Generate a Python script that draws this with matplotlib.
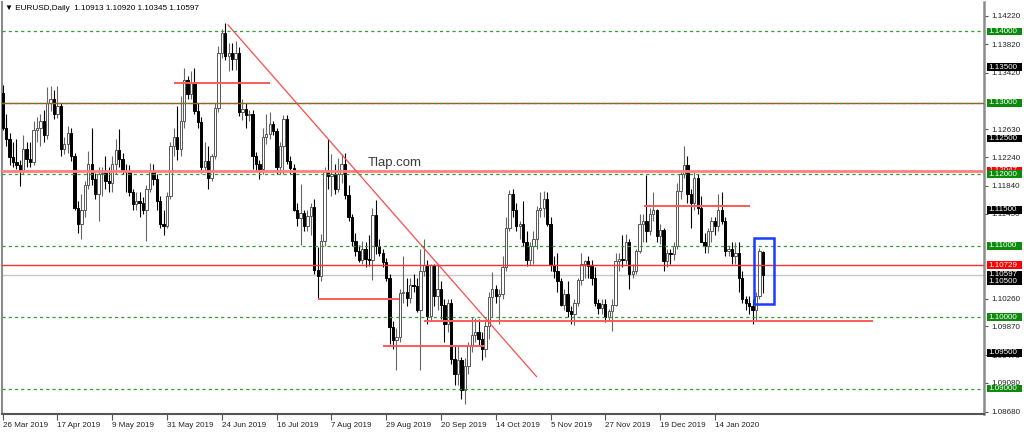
import matplotlib.pyplot as plt
from matplotlib.patches import Rectangle
from matplotlib.transforms import blended_transform_factory
import numpy as np

plt.rcParams['font.family'] = ['Liberation Sans', 'DejaVu Sans']

# EURUSD daily bars, 26 Mar 2019 .. 3 Feb 2020
opens = [
    1.1313, 1.1265, 1.1250, 1.1224, 1.1217, 1.1213, 1.1205, 1.1235, 1.1222, 1.1217,
    1.1262, 1.1265, 1.1275, 1.1255, 1.1300, 1.1305, 1.1285, 1.1295, 1.1235, 1.1242,
    1.1258, 1.1225, 1.1153, 1.1131, 1.1150, 1.1185, 1.1215, 1.1193, 1.1172, 1.1200,
    1.1202, 1.1190, 1.1188, 1.1215, 1.1234, 1.1222, 1.1205, 1.1203, 1.1175, 1.1158,
    1.1163, 1.1160, 1.1150, 1.1180, 1.1205, 1.1193, 1.1163, 1.1130, 1.1128, 1.1170,
    1.1240, 1.1252, 1.1235, 1.1275, 1.1332, 1.1312, 1.1327, 1.1288, 1.1273, 1.1210,
    1.1218, 1.1195, 1.1225, 1.1292, 1.1369, 1.1397, 1.1366, 1.1370, 1.1361, 1.1370,
    1.1287, 1.1291, 1.1283, 1.1285, 1.1225, 1.1215, 1.1207, 1.1252, 1.1257, 1.1270,
    1.1260, 1.1210, 1.1240, 1.1277, 1.1218, 1.1209, 1.1150, 1.1139, 1.1146, 1.1128,
    1.1142, 1.1154, 1.1066, 1.1058, 1.1107, 1.1203, 1.1198, 1.1200, 1.1180, 1.1200,
    1.1214, 1.1171, 1.1140, 1.1107, 1.1092, 1.1080, 1.1096, 1.1082, 1.1080, 1.1143,
    1.1100, 1.1090, 1.1077, 1.1055, 1.0986, 1.0968, 1.0972, 1.1034, 1.1035, 1.1027,
    1.1045, 1.1043, 1.1010, 1.1064, 1.1073, 1.1002, 1.1073, 1.1030, 1.1040, 1.1017,
    1.0990, 1.1020, 1.0941, 1.0921, 1.0940, 1.0898, 1.0932, 1.0960, 1.0975, 1.0980,
    1.0970, 1.0955, 1.0988, 1.1028, 1.1040, 1.1030, 1.1032, 1.1070, 1.1125, 1.1172,
    1.1150, 1.1127, 1.1130, 1.1105, 1.1080, 1.1100, 1.1110, 1.1150, 1.1153, 1.1166,
    1.1130, 1.1073, 1.1065, 1.1050, 1.1017, 1.1033, 1.1008, 1.1005, 1.1020, 1.1052,
    1.1075, 1.1078, 1.1072, 1.1055, 1.1020, 1.1013, 1.1018, 1.1000, 1.1008, 1.1017,
    1.1078, 1.1081, 1.1080, 1.1105, 1.1060, 1.1065, 1.1093, 1.1130, 1.1135, 1.1120,
    1.1145, 1.1150, 1.1113, 1.1122, 1.1078, 1.1090, 1.1088, 1.1100, 1.1177, 1.1200,
    1.1213, 1.1173, 1.1160, 1.1195, 1.1153, 1.1105, 1.1100, 1.1120, 1.1135, 1.1127,
    1.1150, 1.1135, 1.1092, 1.1095, 1.1085, 1.1090, 1.1055, 1.1025, 1.1020, 1.1015,
    1.1010, 1.1030, 1.10913]
highs = [
    1.1325, 1.1285, 1.1258, 1.1245, 1.1250, 1.1220, 1.1255, 1.1245, 1.1245, 1.1274,
    1.1280, 1.1285, 1.1290, 1.1322, 1.1323, 1.1318, 1.1324, 1.1300, 1.1252, 1.1268,
    1.1265, 1.1230, 1.1163, 1.1173, 1.1190, 1.1232, 1.1265, 1.1202, 1.1210, 1.1210,
    1.1225, 1.1210, 1.1225, 1.1250, 1.1264, 1.1230, 1.1215, 1.1213, 1.1180, 1.1175,
    1.1175, 1.1168, 1.1185, 1.1216, 1.1215, 1.1200, 1.1170, 1.1150, 1.1175, 1.1245,
    1.1265, 1.1295, 1.1310, 1.1348, 1.1338, 1.1345, 1.1348, 1.1300, 1.1280, 1.1245,
    1.1240, 1.1228, 1.1300, 1.1380, 1.1403, 1.1412, 1.1383, 1.1384, 1.1386, 1.1378,
    1.1305, 1.1300, 1.1290, 1.1290, 1.1231, 1.1220, 1.1265, 1.1285, 1.1287, 1.1275,
    1.1265, 1.1245, 1.1283, 1.1283, 1.1225, 1.1215, 1.1160, 1.1187, 1.1150, 1.1150,
    1.1160, 1.1166, 1.1098, 1.1117, 1.1210, 1.1250, 1.1229, 1.1214, 1.1223, 1.1228,
    1.1230, 1.1185, 1.1145, 1.1118, 1.1101, 1.1106, 1.1105, 1.1115, 1.1153, 1.1164,
    1.1110, 1.1095, 1.1083, 1.1060, 1.0995, 1.0985, 1.1040, 1.1085, 1.1055, 1.1055,
    1.1060, 1.1055, 1.1096, 1.1110, 1.1080, 1.1075, 1.1075, 1.1075, 1.1050, 1.1025,
    1.1025, 1.1025, 1.0960, 1.0960, 1.0945, 1.0943, 1.0965, 1.1000, 1.0999, 1.0998,
    1.0980, 1.0995, 1.1035, 1.1063, 1.1045, 1.1040, 1.1085, 1.1140, 1.1178, 1.1179,
    1.1160, 1.1135, 1.1163, 1.1120, 1.1105, 1.1120, 1.1155, 1.1175, 1.1176, 1.1175,
    1.1140, 1.1085, 1.1090, 1.1055, 1.1040, 1.1050, 1.1015, 1.1025, 1.1055, 1.1090,
    1.1080, 1.1085, 1.1080, 1.1070, 1.1025, 1.1025, 1.1025, 1.1012, 1.1025, 1.1090,
    1.1090, 1.1115, 1.1116, 1.1110, 1.1075, 1.1095, 1.1145, 1.1145, 1.1199, 1.1153,
    1.1175, 1.1152, 1.1130, 1.1125, 1.1095, 1.1095, 1.1105, 1.1188, 1.1205, 1.1240,
    1.1225, 1.1180, 1.1205, 1.1200, 1.1170, 1.1118, 1.1125, 1.1140, 1.1140, 1.1172,
    1.1175, 1.1140, 1.1100, 1.1105, 1.1105, 1.1105, 1.1065, 1.1030, 1.1030, 1.1025,
    1.1035, 1.1097, 1.10920]
lows = [
    1.1262, 1.1240, 1.1213, 1.1210, 1.1208, 1.1184, 1.1200, 1.1210, 1.1210, 1.1213,
    1.1245, 1.1240, 1.1245, 1.1250, 1.1288, 1.1278, 1.1279, 1.1226, 1.1228, 1.1230,
    1.1218, 1.1150, 1.1118, 1.1110, 1.1140, 1.1180, 1.1185, 1.1165, 1.1135, 1.1170,
    1.1180, 1.1175, 1.1175, 1.1200, 1.1210, 1.1200, 1.1175, 1.1170, 1.1150, 1.1150,
    1.1140, 1.1145, 1.1107, 1.1175, 1.1185, 1.1150, 1.1125, 1.1115, 1.1125, 1.1165,
    1.1225, 1.1220, 1.1225, 1.1265, 1.1305, 1.1305, 1.1285, 1.1265, 1.1202, 1.1205,
    1.1180, 1.1190, 1.1222, 1.1287, 1.1362, 1.1360, 1.1345, 1.1346, 1.1346, 1.1282,
    1.1276, 1.1265, 1.1275, 1.1207, 1.1205, 1.1193, 1.1200, 1.1242, 1.1250, 1.1255,
    1.1200, 1.1200, 1.1200, 1.1215, 1.1200, 1.1148, 1.1128, 1.1101, 1.1120, 1.1120,
    1.1115, 1.1060, 1.1027, 1.1050, 1.1100, 1.1180, 1.1170, 1.1172, 1.1175, 1.1188,
    1.1165, 1.1135, 1.1100, 1.1086, 1.1077, 1.1075, 1.1070, 1.1072, 1.1052, 1.1088,
    1.1085, 1.1070, 1.1051, 1.0963, 1.0955, 1.0926, 1.0965, 1.1020, 1.1015, 1.1020,
    1.1035, 1.1007, 1.0926, 1.1058, 1.0990, 1.0995, 1.1015, 1.1010, 1.0998, 1.0965,
    1.0980, 1.0935, 1.0905, 1.0905, 1.0885, 1.0879, 1.0920, 1.0952, 1.0965, 1.0960,
    1.0940, 1.0945, 1.0970, 1.1000, 1.1020, 1.0990, 1.1025, 1.1065, 1.1120, 1.1140,
    1.1120, 1.1110, 1.1100, 1.1072, 1.1073, 1.1075, 1.1095, 1.1140, 1.1140, 1.1128,
    1.1065, 1.1055, 1.1035, 1.1015, 1.1010, 1.1000, 1.0990, 1.0989, 1.1015, 1.1045,
    1.1055, 1.1055, 1.1045, 1.1015, 1.1005, 1.1005, 1.0993, 1.0995, 1.0981, 1.1015,
    1.1065, 1.1070, 1.1075, 1.1040, 1.1055, 1.1060, 1.1090, 1.1105, 1.1105, 1.1115,
    1.1135, 1.1105, 1.1102, 1.1065, 1.1070, 1.1075, 1.1080, 1.1095, 1.1165, 1.1195,
    1.1160, 1.1125, 1.1150, 1.1145, 1.1105, 1.1090, 1.1090, 1.1105, 1.1115, 1.1120,
    1.1130, 1.1085, 1.1085, 1.1075, 1.1075, 1.1035, 1.1020, 1.1010, 1.1005, 1.0991,
    1.0995, 1.1025, 1.10345]
closes = [
    1.1265, 1.1250, 1.1224, 1.1217, 1.1213, 1.1205, 1.1235, 1.1222, 1.1217, 1.1262,
    1.1265, 1.1275, 1.1255, 1.1300, 1.1305, 1.1285, 1.1295, 1.1235, 1.1242, 1.1258,
    1.1225, 1.1153, 1.1131, 1.1150, 1.1185, 1.1215, 1.1193, 1.1172, 1.1200, 1.1202,
    1.1190, 1.1188, 1.1215, 1.1234, 1.1222, 1.1205, 1.1203, 1.1175, 1.1158, 1.1163,
    1.1160, 1.1150, 1.1180, 1.1205, 1.1193, 1.1163, 1.1130, 1.1128, 1.1170, 1.1240,
    1.1252, 1.1235, 1.1275, 1.1332, 1.1312, 1.1327, 1.1288, 1.1273, 1.1210, 1.1218,
    1.1195, 1.1225, 1.1292, 1.1369, 1.1397, 1.1366, 1.1370, 1.1361, 1.1370, 1.1287,
    1.1291, 1.1283, 1.1285, 1.1225, 1.1215, 1.1207, 1.1252, 1.1257, 1.1270, 1.1260,
    1.1210, 1.1240, 1.1277, 1.1218, 1.1209, 1.1150, 1.1139, 1.1146, 1.1128, 1.1142,
    1.1154, 1.1066, 1.1058, 1.1107, 1.1203, 1.1198, 1.1200, 1.1180, 1.1200, 1.1214,
    1.1171, 1.1140, 1.1107, 1.1092, 1.1080, 1.1096, 1.1082, 1.1080, 1.1143, 1.1100,
    1.1090, 1.1077, 1.1055, 1.0986, 1.0968, 1.0972, 1.1034, 1.1035, 1.1027, 1.1045,
    1.1043, 1.1010, 1.1064, 1.1073, 1.1002, 1.1073, 1.1030, 1.1040, 1.1017, 1.0990,
    1.1020, 1.0941, 1.0921, 1.0940, 1.0898, 1.0932, 1.0960, 1.0975, 1.0980, 1.0970,
    1.0955, 1.0988, 1.1028, 1.1040, 1.1030, 1.1032, 1.1070, 1.1125, 1.1172, 1.1150,
    1.1127, 1.1130, 1.1105, 1.1080, 1.1100, 1.1110, 1.1150, 1.1153, 1.1166, 1.1130,
    1.1073, 1.1065, 1.1050, 1.1017, 1.1033, 1.1008, 1.1005, 1.1020, 1.1052, 1.1075,
    1.1078, 1.1072, 1.1055, 1.1020, 1.1013, 1.1018, 1.1000, 1.1008, 1.1017, 1.1078,
    1.1081, 1.1080, 1.1105, 1.1060, 1.1065, 1.1093, 1.1130, 1.1135, 1.1120, 1.1145,
    1.1150, 1.1113, 1.1122, 1.1078, 1.1090, 1.1088, 1.1100, 1.1177, 1.1200, 1.1213,
    1.1173, 1.1160, 1.1195, 1.1153, 1.1105, 1.1100, 1.1120, 1.1135, 1.1127, 1.1150,
    1.1135, 1.1092, 1.1095, 1.1085, 1.1090, 1.1055, 1.1025, 1.1020, 1.1015, 1.1010,
    1.1030, 1.1092, 1.10597]

date_labels = ['26 Mar 2019', '17 Apr 2019', '9 May 2019', '31 May 2019', '24 Jun 2019',
               '16 Jul 2019', '7 Aug 2019', '29 Aug 2019', '20 Sep 2019', '14 Oct 2019',
               '5 Nov 2019', '27 Nov 2019', '19 Dec 2019', '14 Jan 2020']
date_bars = [0, 16, 32, 48, 64, 80, 96, 112, 128, 144, 160, 176, 192, 208]

# scale values that are not fully covered by the price boxes
price_ticks = [1.14220, 1.13820, 1.13420, 1.12630, 1.12240, 1.11840, 1.11450,
               1.10260, 1.09870, 1.09470, 1.09080, 1.08680]

# drawn objects on the chart
green_levels = [1.14, 1.13, 1.12, 1.11, 1.10, 1.09]
red_levels = [1.12996, 1.12047, 1.10729]
current_price = 1.10597
# (first bar, last bar, price)
red_segments = [(50.0, 78.1, 1.1328), (92.1, 115.7, 1.1026), (111.0, 140.8, 1.0960),
                (123.0, 254.1, 1.0995), (187.3, 218.2, 1.1155)]
trend_bars = [65.8, 155.9]
trend_prices = [1.1409, 1.0917]
box_bars = (219.3, 225.3)
box_prices = (1.1018, 1.1111)

# price labels on the right scale: (price, colour)
scale_labels = [(1.14000, '#0b8a0b'), (1.13500, 'black'), (1.13000, '#0b8a0b'),
                (1.12500, 'black'), (1.12047, '#ff0000'), (1.12000, '#0b8a0b'),
                (1.11500, 'black'), (1.11000, '#0b8a0b'), (1.10729, '#ff0000'),
                (1.10597, 'black'), (1.10500, 'black'), (1.10000, '#0b8a0b'),
                (1.09500, 'black'), (1.09000, '#0b8a0b')]

o = np.array(opens)
h = np.array(highs)
l = np.array(lows)
c = np.array(closes)
x = np.arange(len(c))
up = c >= o

fig = plt.figure(figsize=(10.24, 4.32), dpi=100)
fig.patch.set_facecolor('white')
ax = fig.add_axes([2/1024, 18.3/432, 982/1024, 411.7/432])

ax.vlines(x[up], l[up], h[up], color='#666666', lw=0.8, zorder=3)
ax.vlines(x[~up], l[~up], h[~up], color='black', lw=0.8, zorder=3)
body = np.maximum(np.abs(c - o), 0.00004)
ax.bar(x[up], body[up], bottom=o[up], width=0.68, color='white',
       edgecolor='#555555', lw=0.7, zorder=4)
ax.bar(x[~up], body[~up], bottom=c[~up], width=0.68, color='black',
       edgecolor='black', lw=0.7, zorder=4)

for p in green_levels:
    ax.axhline(p, color='#2f9e2f', lw=0.9, ls=(0, (2.5, 2.5)), zorder=6)
ax.axhline(red_levels[0], color='#d83a2a', lw=1.0, zorder=5)
ax.axhline(red_levels[1], color='#ff8080', lw=2.0, zorder=5)
ax.axhline(red_levels[2], color='#ff3030', lw=1.0, zorder=5)
ax.axhline(current_price, color='#c8c8c8', lw=1.0, zorder=2)

for b0, b1, p in red_segments:
    ax.hlines(p, b0, b1, color='#ff5a5a', lw=1.4, zorder=5)
ax.plot(trend_bars, trend_prices, color='#ff4a4a', lw=0.9, zorder=5)
ax.add_patch(Rectangle((box_bars[0], box_prices[0]), box_bars[1] - box_bars[0],
                       box_prices[1] - box_prices[0], fill=False,
                       edgecolor='#1a3cff', lw=1.8, zorder=7))

ax.text(0.3727, 0.608, 'Tlap.com', transform=ax.transAxes, fontsize=9.5,
        color='#3a3a3a', va='center', ha='left')

ax.set_xlim(-0.2, 286.6)
ax.set_ylim(1.0865, 1.1441)

ax.spines['top'].set_visible(False)
ax.spines['left'].set_color('#8c8c8c')
ax.spines['left'].set_linewidth(1.5)
ax.spines['right'].set_color('#8c8c8c')
ax.spines['right'].set_linewidth(1.8)
ax.spines['bottom'].set_color('#555555')
ax.spines['bottom'].set_linewidth(1.5)

ax.yaxis.tick_right()
ax.set_yticks(price_ticks)
ax.set_yticklabels(['%.5f' % v for v in price_ticks])
ax.tick_params(axis='y', length=3, width=0.8, color='#555555', pad=2,
               labelsize=5.8, labelcolor='#222222')
ax.set_xticks(date_bars)
ax.set_xticklabels(date_labels)
ax.tick_params(axis='x', length=4, width=0.8, color='#555555', pad=2,
               labelsize=5.8, labelcolor='#222222')
for lbl in ax.get_xticklabels():
    lbl.set_ha('left')

# boxed price labels on the right scale
trans = blended_transform_factory(fig.transFigure, ax.transData)
hh = 7.6 / 7147
for k, (p, col) in enumerate(scale_labels):
    fig.add_artist(Rectangle((986.5/1024, p - hh/2), 35.5/1024, hh, transform=trans,
                             facecolor=col, edgecolor='none', zorder=10 + 2*k))
    fig.text(988.5/1024, p, '%.5f' % p, transform=trans, color='white',
             fontsize=5.8, va='center', ha='left', zorder=11 + 2*k)

fig.text(5/1024, 1 - 8.5/432, '\u25bc EURUSD,Daily  1.10913 1.10920 1.10345 1.10597',
         fontsize=5.9, va='center', ha='left', color='black')

fig.savefig('out.png', dpi=100, facecolor='white')
